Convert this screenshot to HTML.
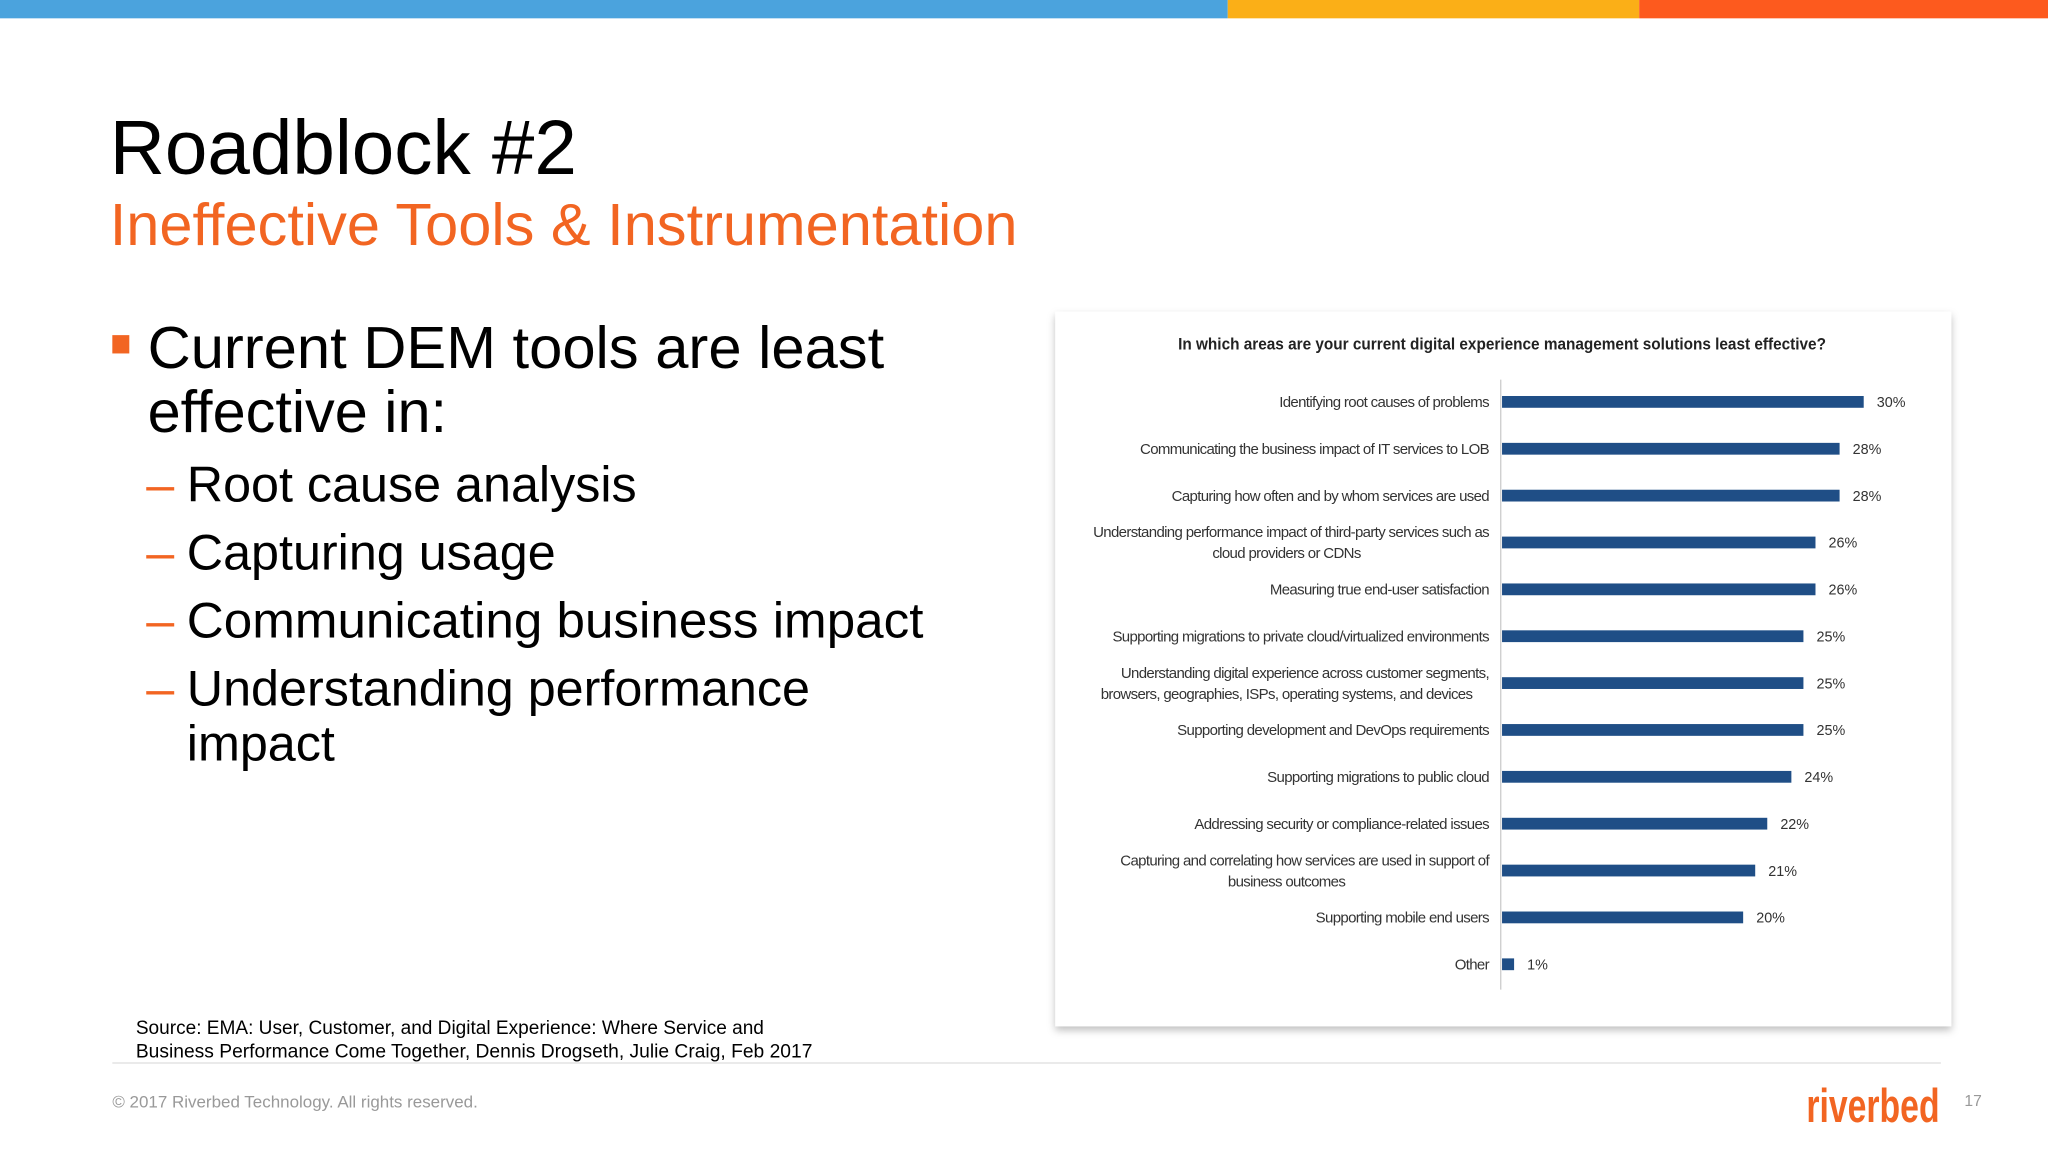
<!DOCTYPE html>
<html><head><meta charset="utf-8"><style>
html,body{margin:0;padding:0;background:#fff;overflow:hidden}
svg{display:block}
</style></head><body>
<svg id="slide" width="2048" height="1152" viewBox="0 0 1568 880" preserveAspectRatio="none" xmlns="http://www.w3.org/2000/svg" font-family="Liberation Sans, sans-serif">
<defs>
<filter id="sh" x="-5%" y="-5%" width="110%" height="110%"><feDropShadow dx="0" dy="3" stdDeviation="3" flood-color="#000" flood-opacity="0.25"/></filter>
</defs>
<rect x="0" y="0" width="940" height="14" fill="#4ba3dd"/>
<rect x="940" y="0" width="315" height="14" fill="#fbaf17"/>
<rect x="1255" y="0" width="313" height="14" fill="#fd5a1e"/>
<text x="84" y="133" font-size="58.5" fill="#000">Roadblock #2</text>
<text x="84" y="187" font-size="45.5" fill="#f26522" textLength="695" lengthAdjust="spacingAndGlyphs">Ineffective Tools &amp; Instrumentation</text>
<rect x="86" y="256" width="13" height="14" fill="#f26522"/>
<text font-size="45.5" fill="#000"><tspan x="113" y="281" textLength="564" lengthAdjust="spacingAndGlyphs">Current DEM tools are least</tspan><tspan x="113" y="330">effective in:</tspan></text>
<g font-size="38.5" fill="#000">
<text x="112" y="383" fill="#f26522">–</text><text x="143" y="383">Root cause analysis</text>
<text x="112" y="435" fill="#f26522">–</text><text x="143" y="435">Capturing usage</text>
<text x="112" y="487" fill="#f26522">–</text><text x="143" y="487" textLength="564" lengthAdjust="spacingAndGlyphs">Communicating business impact</text>
<text x="112" y="539" fill="#f26522">–</text><text x="143" y="539">Understanding performance</text>
<text x="143" y="581">impact</text>
</g>
<text font-size="14.6" fill="#000"><tspan x="104" y="790">Source: EMA: User, Customer, and Digital Experience: Where Service and</tspan><tspan x="104" y="808" textLength="518" lengthAdjust="spacingAndGlyphs">Business Performance Come Together, Dennis Drogseth, Julie Craig, Feb 2017</tspan></text>
<line x1="86" y1="812" x2="1486" y2="812" stroke="#ddd" stroke-width="1"/>
<text x="86" y="846" font-size="13" fill="#999">© 2017 Riverbed Technology. All rights reserved.</text>
<text x="1383" y="857" font-size="36" font-weight="bold" fill="#f26522" textLength="102" lengthAdjust="spacingAndGlyphs">riverbed</text>
<text x="1504" y="845" font-size="12" fill="#999">17</text>
<g id="chart">
<rect x="808" y="238" width="686" height="546" fill="#fff" filter="url(#sh)"/>
<text x="1150" y="267" font-size="12.5" font-weight="bold" fill="#222" text-anchor="middle" textLength="496" lengthAdjust="spacingAndGlyphs">In which areas are your current digital experience management solutions least effective?</text>
<line x1="1149" y1="290" x2="1149" y2="756" stroke="#ccc" stroke-width="1"/>
</g>
</svg>
<script>
const categories = [
 ["Identifying root causes of problems"],
 ["Communicating the business impact of IT services to LOB"],
 ["Capturing how often and by whom services are used"],
 ["Understanding performance impact of third-party services such as","cloud providers or CDNs"],
 ["Measuring true end-user satisfaction"],
 ["Supporting migrations to private cloud/virtualized environments"],
 ["Understanding digital experience across customer segments,","browsers, geographies, ISPs, operating systems, and devices"],
 ["Supporting development and DevOps requirements"],
 ["Supporting migrations to public cloud"],
 ["Addressing security or compliance-related issues"],
 ["Capturing and correlating how services are used in support of","business outcomes"],
 ["Supporting mobile end users"],
 ["Other"]
];
const values = [30,28,28,26,26,25,25,25,24,22,21,20,1];
const valueLabels = ["30%","28%","28%","26%","26%","25%","25%","25%","24%","22%","21%","20%","1%"];

const NS="http://www.w3.org/2000/svg";
const chart=document.getElementById('chart');
const x0=1150, pxPer=9.23;
const xScale=v=>x0+v*pxPer;
const yScale=i=>307+i*35.8;
function mk(tag,attrs){const e=document.createElementNS(NS,tag);for(const k in attrs)e.setAttribute(k,attrs[k]);chart.appendChild(e);return e;}
values.forEach((v,i)=>{
  const yc=yScale(i);
  const bar=mk('rect',{x:x0,y:yc-4.5,width:xScale(v)-x0,height:9,fill:'#1f4e86'});
  
  
  const vl=mk('text',{x:xScale(v)+10,y:yc+4,'font-size':11,fill:'#333'});
  vl.textContent=valueLabels[i];
  
  
  const lines=categories[i];
  const lab=mk('text',{'font-size':11.5,fill:'#333','text-anchor':'end'});
  
  
  const startY = lines.length===1 ? yc+4 : yc-4;
  lines.forEach((ln,j)=>{
    const t=document.createElementNS(NS,'tspan');
    const last = j===lines.length-1 && lines.length>1;
    t.setAttribute('x', last ? 985 : 1140);
    t.setAttribute('text-anchor', last ? 'middle' : 'end');
    t.setAttribute('y', startY+j*16);
    t.setAttribute('letter-spacing','-0.5');
    t.textContent=ln;
    lab.appendChild(t);
  });
});
</script>
</body></html>
